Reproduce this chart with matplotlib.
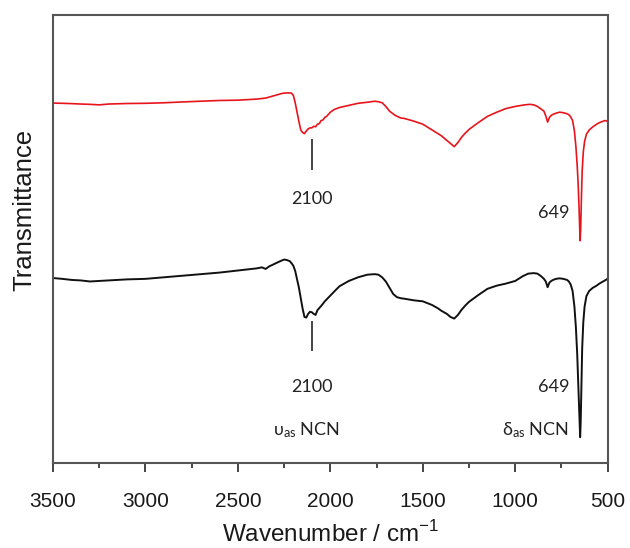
import matplotlib
matplotlib.use("Agg")
import matplotlib.pyplot as plt
from matplotlib.ticker import MultipleLocator

# Wavenumbers (cm^-1) and transmittance (arbitrary units, offset traces)
red_x = [3500, 3450, 3400, 3350, 3300, 3250, 3200, 3100, 3000, 2900, 2800, 2700, 2600, 2500,
         2400, 2350, 2300, 2260, 2230, 2210, 2200, 2190, 2180, 2170, 2160, 2150, 2140, 2130,
         2120, 2110, 2100, 2090, 2080, 2070, 2060, 2050, 2040, 2030, 2020, 2000, 1980, 1950,
         1900, 1850, 1800, 1760, 1740, 1720, 1700, 1680, 1650, 1620, 1600, 1550, 1500, 1450,
         1400, 1370, 1350, 1330, 1310, 1290, 1270, 1250, 1200, 1150, 1100, 1050, 1000, 950,
         920, 900, 880, 860, 845, 835, 825, 815, 805, 795, 780, 760, 740, 720, 710, 700, 690,
         680, 672, 665, 660, 655, 651, 649, 646, 642, 638, 632, 625, 615, 600, 580, 560, 545,
         530, 515, 505, 500]
red_y = [344.7, 344.5, 344.2, 343.8, 343.5, 343.0, 343.8, 344.3, 344.5, 345.0, 345.8, 346.5,
         347.2, 347.5, 348.5, 349.5, 352.0, 354.0, 354.5, 354.2, 352.0, 345.0, 336.0, 327.0,
         319.0, 316.5, 315.5, 318.0, 320.0, 321.0, 321.0, 322.5, 322.0, 324.5, 325.0, 328.0,
         328.5, 331.0, 332.0, 336.0, 338.5, 340.5, 342.5, 344.5, 345.5, 346.5, 346.0, 345.0,
         341.5, 337.0, 333.0, 330.5, 330.0, 327.5, 324.5, 319.0, 313.5, 309.0, 306.0, 303.0,
         307.0, 312.0, 316.0, 319.5, 326.0, 332.0, 336.0, 339.5, 341.5, 343.0, 343.5, 343.0,
         341.5, 339.0, 337.0, 332.5, 326.5, 331.0, 333.0, 334.0, 335.0, 336.0, 335.5, 334.5,
         333.5, 331.5, 328.0, 318.0, 303.0, 285.0, 268.0, 245.0, 222.0, 213.0, 225.0, 255.0,
         280.0, 298.0, 308.0, 315.0, 319.0, 322.0, 324.5, 326.0, 327.0, 328.0, 327.5, 327.0]

black_x = [3500, 3450, 3400, 3350, 3300, 3250, 3200, 3100, 3000, 2900,
           2800, 2700, 2600, 2500, 2450, 2400, 2370, 2350, 2330, 2300,
           2270, 2250, 2235, 2220, 2210, 2200, 2190, 2180, 2170, 2160,
           2150, 2140, 2130, 2120, 2110, 2100, 2090, 2080, 2070, 2060,
           2050, 2030, 2000, 1970, 1950, 1900, 1850, 1800, 1760, 1740,
           1720, 1700, 1680, 1660, 1640, 1620, 1600, 1550, 1500, 1450,
           1420, 1400, 1370, 1350, 1330, 1310, 1290, 1270, 1250, 1200,
           1150, 1100, 1050, 1000, 960, 930, 900, 880, 860, 845,
           835, 825, 815, 805, 795, 780, 760, 740, 720, 710,
           700, 690, 680, 672, 665, 660, 655, 651, 649, 646,
           642, 638, 632, 625, 615, 600, 580, 560, 545, 530,
           515, 505, 500]
black_y = [177.3, 176.5, 175.5, 175.0, 174.0, 174.5, 175.0, 176.0, 176.5, 178.0,
           179.5, 181.0, 182.5, 184.5, 185.5, 186.5, 187.5, 186.0, 188.5, 191.0,
           193.5, 195.0, 194.5, 193.5, 191.5, 189.0, 184.0, 176.0, 168.0, 158.0,
           148.0, 140.0, 139.5, 143.0, 145.0, 144.5, 143.0, 142.0, 146.5, 148.5,
           150.5, 155.0, 160.5, 166.0, 169.5, 174.5, 178.0, 180.5, 181.0, 180.5,
           178.0, 174.0, 168.0, 162.0, 159.0, 158.0, 157.5, 156.0, 155.0, 151.5,
           148.5, 146.0, 143.0, 140.0, 138.5, 142.0, 147.0, 151.0, 154.5, 161.0,
           167.0, 170.0, 172.0, 174.5, 179.0, 181.5, 182.0, 181.5, 179.0, 176.5,
           174.0, 168.5, 173.0, 174.5, 175.5, 176.5, 177.0, 176.5, 175.5, 174.0,
           171.0, 165.0, 150.0, 130.0, 105.0, 80.0, 55.0, 35.0, 25.0, 40.0,
           75.0, 110.0, 135.0, 150.0, 160.0, 165.0, 168.0, 170.0, 172.0, 173.5,
           175.0, 176.0, 177.0]

x_ticks = [3500, 3000, 2500, 2000, 1500, 1000, 500]
peak_2100 = 2100
peak_649 = 649

fig = plt.figure(figsize=(6.3, 5.48), dpi=100)
ax = fig.add_axes([53/630, 1 - 463.3/548, 554.7/630, 448.3/548])

ax.plot(red_x, red_y, color="#e8141c", lw=1.2)
ax.plot(black_x, black_y, color="#111111", lw=1.4)

ax.set_xlim(3500, 500)
ax.set_ylim(0, 429)
ax.set_yticks([])
ax.set_xticks(x_ticks)
ax.xaxis.set_minor_locator(MultipleLocator(250))
ax.tick_params(axis="x", which="major", direction="out", length=6.5, width=1.4,
               color="#444444", labelsize=15, pad=14)
ax.tick_params(axis="x", which="minor", direction="out", length=3.5, width=1.4, color="#444444")
for lab in ax.get_xticklabels():
    lab.set_fontfamily("Liberation Sans")
    lab.set_color("#1a1a1a")
for s in ax.spines.values():
    s.set_color("#555555")
    s.set_linewidth(1.5)

ax.set_xlabel("Wavenumber / cm$^{\\mathregular{-1}}$", fontsize=17.5, family="Liberation Sans",
              color="#1a1a1a")
ax.xaxis.set_label_coords(0.5, -0.128)
ax.set_ylabel("Transmittance", fontsize=18.5, family="Liberation Sans", color="#1a1a1a")
ax.yaxis.set_label_coords(-0.03, 0.565)

ann_font = dict(family="Lato", fontsize=13, color="#222222")

# red trace annotations
ax.plot([peak_2100, peak_2100], [309.5, 281.5], color="#444444", lw=1.4)
ax.text(peak_2100, 253, "2100", ha="center", va="center", **ann_font)
ax.text(709, 240, "649", ha="right", va="center", **ann_font)

# black trace annotations
ax.plot([peak_2100, peak_2100], [135.5, 108.5], color="#444444", lw=1.4)
ax.text(peak_2100, 73.3, "2100", ha="center", va="center", **ann_font)
ax.text(709, 73.3, "649", ha="right", va="center", **ann_font)
ax.text(2132, 32, "$\\mathregular{\\upsilon_{as}}$ NCN", ha="center", va="center",
        **ann_font)
ax.text(709, 32, "$\\mathregular{\\delta_{as}}$ NCN", ha="right", va="center",
        **ann_font)

fig.savefig("out.png", dpi=100)
